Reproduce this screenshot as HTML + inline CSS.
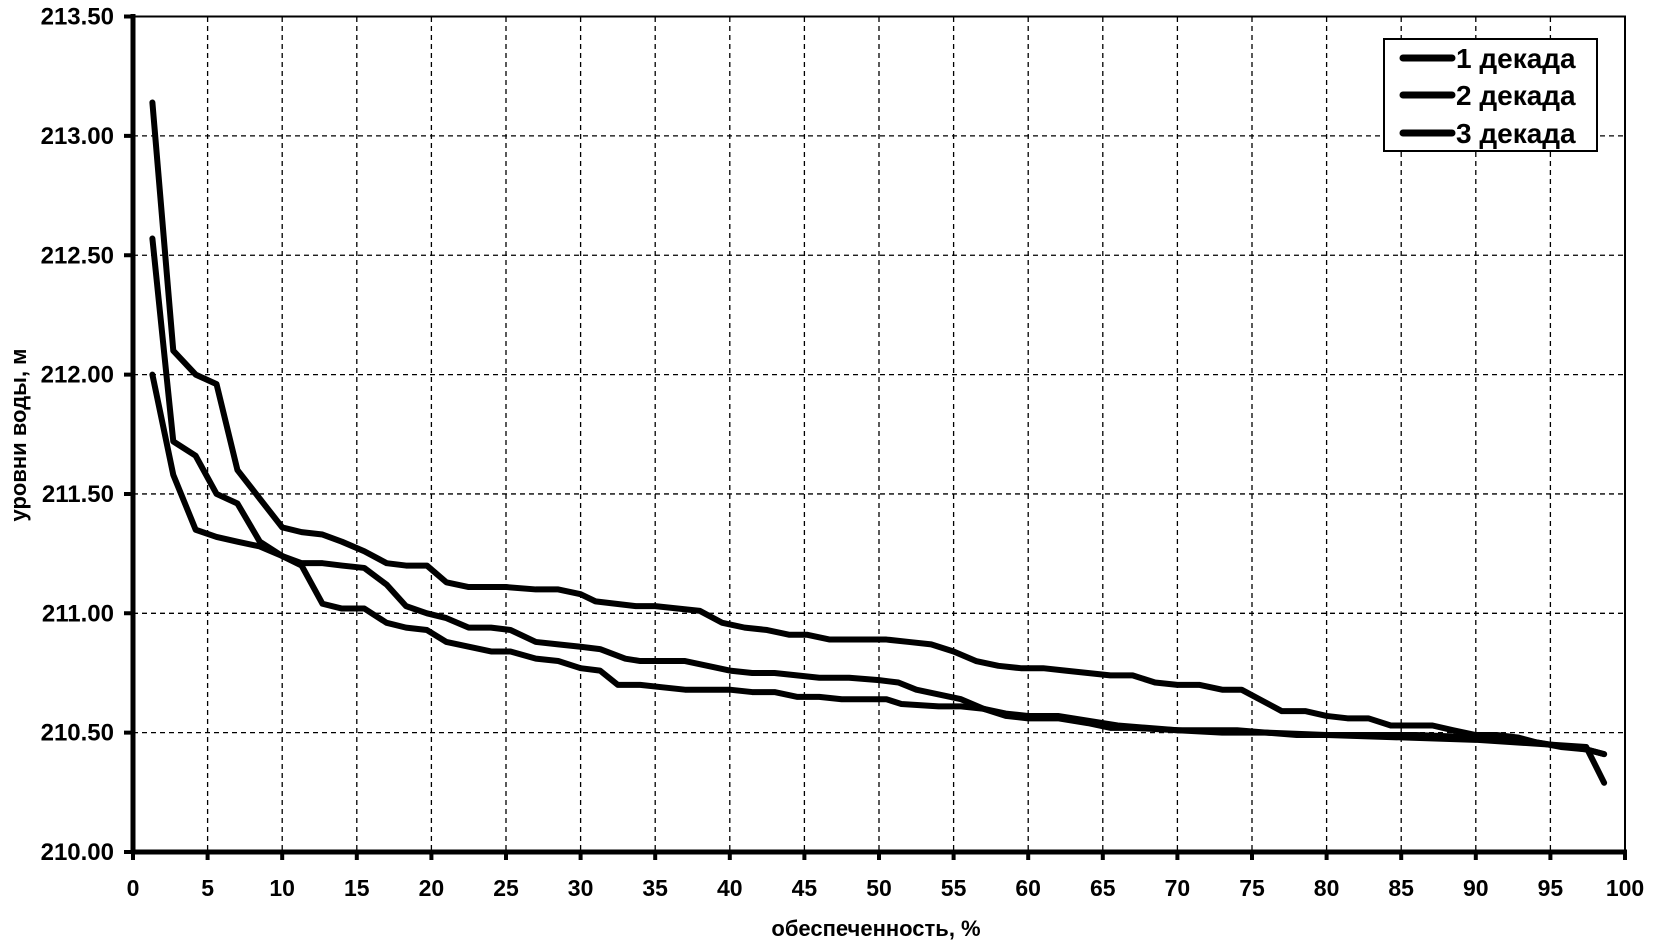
<!DOCTYPE html>
<html><head><meta charset="utf-8"><style>
body{margin:0;background:#fff}
svg{display:block}
text{font-family:"Liberation Sans",Arial,sans-serif;font-weight:bold;fill:#000}
</style></head><body>
<svg width="1654" height="947" viewBox="0 0 1654 947" xmlns="http://www.w3.org/2000/svg">
<g stroke="#000" stroke-width="1.3" stroke-dasharray="5,4" fill="none">
<path d="M207.6 17V852M282.2 17V852M356.8 17V852M431.4 17V852M506 17V852M580.6 17V852M655.2 17V852M729.8 17V852M804.4 17V852M879 17V852M953.6 17V852M1028.2 17V852M1102.8 17V852M1177.4 17V852M1252 17V852M1326.6 17V852M1401.2 17V852M1475.8 17V852M1550.4 17V852"/>
<path d="M133 732.65H1625M133 613.3H1625M133 493.95H1625M133 374.6H1625M133 255.25H1625M133 135.9H1625"/>
</g>
<rect x="133" y="16.5" width="1492" height="835.5" fill="none" stroke="#000" stroke-width="2"/>
<line x1="133" y1="14" x2="133" y2="854" stroke="#000" stroke-width="5"/>
<line x1="131" y1="852" x2="1627" y2="852" stroke="#000" stroke-width="5"/>
<path stroke="#000" stroke-width="4" fill="none" d="M133 852V860M207.6 852V860M282.2 852V860M356.8 852V860M431.4 852V860M506 852V860M580.6 852V860M655.2 852V860M729.8 852V860M804.4 852V860M879 852V860M953.6 852V860M1028.2 852V860M1102.8 852V860M1177.4 852V860M1252 852V860M1326.6 852V860M1401.2 852V860M1475.8 852V860M1550.4 852V860M1625 852V860M124 852H133M124 732.65H133M124 613.3H133M124 493.95H133M124 374.6H133M124 255.25H133M124 135.9H133M124 16.55H133"/>
<g font-size="23" text-anchor="middle">
<text x="133" y="896">0</text><text x="207.6" y="896">5</text><text x="282.2" y="896">10</text><text x="356.8" y="896">15</text><text x="431.4" y="896">20</text><text x="506" y="896">25</text><text x="580.6" y="896">30</text><text x="655.2" y="896">35</text><text x="729.8" y="896">40</text><text x="804.4" y="896">45</text><text x="879" y="896">50</text><text x="953.6" y="896">55</text><text x="1028.2" y="896">60</text><text x="1102.8" y="896">65</text><text x="1177.4" y="896">70</text><text x="1252" y="896">75</text><text x="1326.6" y="896">80</text><text x="1401.2" y="896">85</text><text x="1475.8" y="896">90</text><text x="1550.4" y="896">95</text><text x="1625" y="896">100</text>
</g>
<g font-size="24" text-anchor="end">
<text x="114" y="860">210.00</text><text x="114" y="740.65">210.50</text><text x="114" y="621.3">211.00</text><text x="114" y="501.95">211.50</text><text x="114" y="382.6">212.00</text><text x="114" y="263.25">212.50</text><text x="114" y="143.9">213.00</text><text x="114" y="24.55">213.50</text>
</g>
<g fill="none" stroke="#000" stroke-width="6" stroke-linejoin="round" stroke-linecap="round" transform="matrix(14.92 0 0 -238.7 133 50979)">
<polyline vector-effect="non-scaling-stroke" points="1.3,213.14 2.7,212.1 4.2,212.0 5.6,211.96 7,211.6 8.5,211.48 10,211.36 11.3,211.34 12.7,211.33 14,211.3 15.5,211.26 17,211.21 18.3,211.2 19.7,211.2 21,211.13 22.5,211.11 25,211.11 27,211.1 28.5,211.1 30,211.08 31,211.05 33.7,211.03 35,211.03 36.5,211.02 38,211.01 39.5,210.96 41,210.94 42.5,210.93 44,210.91 45.2,210.91 46.7,210.89 48,210.89 50.5,210.89 52,210.88 53.5,210.87 55,210.84 56.5,210.8 58,210.78 59.5,210.77 61,210.77 62.5,210.76 64,210.75 65.5,210.74 67,210.74 68.5,210.71 70,210.7 71.5,210.7 73,210.68 74.3,210.68 75.8,210.63 77,210.59 78.6,210.59 80,210.57 81.4,210.56 82.8,210.56 84.3,210.53 85.7,210.53 87.1,210.53 88.5,210.51 90,210.49 91.4,210.49 92.8,210.48 94,210.46 95.7,210.44 97.4,210.43 98.6,210.41"/>
<polyline vector-effect="non-scaling-stroke" points="1.3,212.57 2.7,211.72 4.2,211.66 5.6,211.5 7,211.46 8.5,211.3 10,211.24 11.3,211.2 12.7,211.04 14,211.02 15.5,211.02 17,210.96 18.3,210.94 19.7,210.93 21,210.88 22.5,210.86 24,210.84 25.3,210.84 27,210.81 28.5,210.8 30,210.77 31.3,210.76 32.5,210.7 34,210.7 35.5,210.69 37,210.68 40,210.68 41.5,210.67 43,210.67 44.5,210.65 46,210.65 47.5,210.64 50.5,210.64 51.5,210.62 54,210.61 55.5,210.61 57,210.6 58.5,210.57 60,210.56 62,210.56 64,210.54 65.5,210.52 67,210.52 70,210.51 73,210.5 76,210.5 80,210.49 85,210.48 90,210.47 95,210.45 97.4,210.43 98.6,210.41"/>
<polyline vector-effect="non-scaling-stroke" points="1.3,212.0 2.7,211.58 4.2,211.35 5.6,211.32 7,211.3 8.5,211.28 10,211.24 11.3,211.21 12.7,211.21 14,211.2 15.5,211.19 17,211.12 18.3,211.03 19.7,211.0 21,210.98 22.5,210.94 24,210.94 25.3,210.93 27,210.88 28.5,210.87 30,210.86 31.3,210.85 33,210.81 34,210.8 37,210.8 38.5,210.78 40,210.76 41.5,210.75 43,210.75 44.5,210.74 46,210.73 48,210.73 50,210.72 51.3,210.71 52.5,210.68 54,210.66 55.5,210.64 57,210.6 58.5,210.58 60,210.57 62,210.57 64,210.55 66,210.53 68,210.52 70,210.51 74,210.51 78,210.49 82,210.49 86,210.49 90,210.48 93,210.47 95,210.45 97.4,210.44 98.6,210.29"/>
</g>
<text x="876" y="936" font-size="22" text-anchor="middle">обеспеченность, %</text>
<text transform="translate(26,435) rotate(-90)" font-size="22" text-anchor="middle">уровни воды, м</text>
<rect x="1384" y="39" width="213" height="112" fill="#fff" stroke="#000" stroke-width="2"/>
<g stroke="#000" stroke-width="7" stroke-linecap="round">
<line x1="1403" y1="58" x2="1452" y2="58"/><line x1="1403" y1="95" x2="1452" y2="95"/><line x1="1403" y1="133" x2="1452" y2="133"/>
</g>
<text x="1456" y="68" font-size="28">1 декада</text>
<text x="1456" y="105" font-size="28">2 декада</text>
<text x="1456" y="143" font-size="28">3 декада</text>
</svg>
</body></html>
